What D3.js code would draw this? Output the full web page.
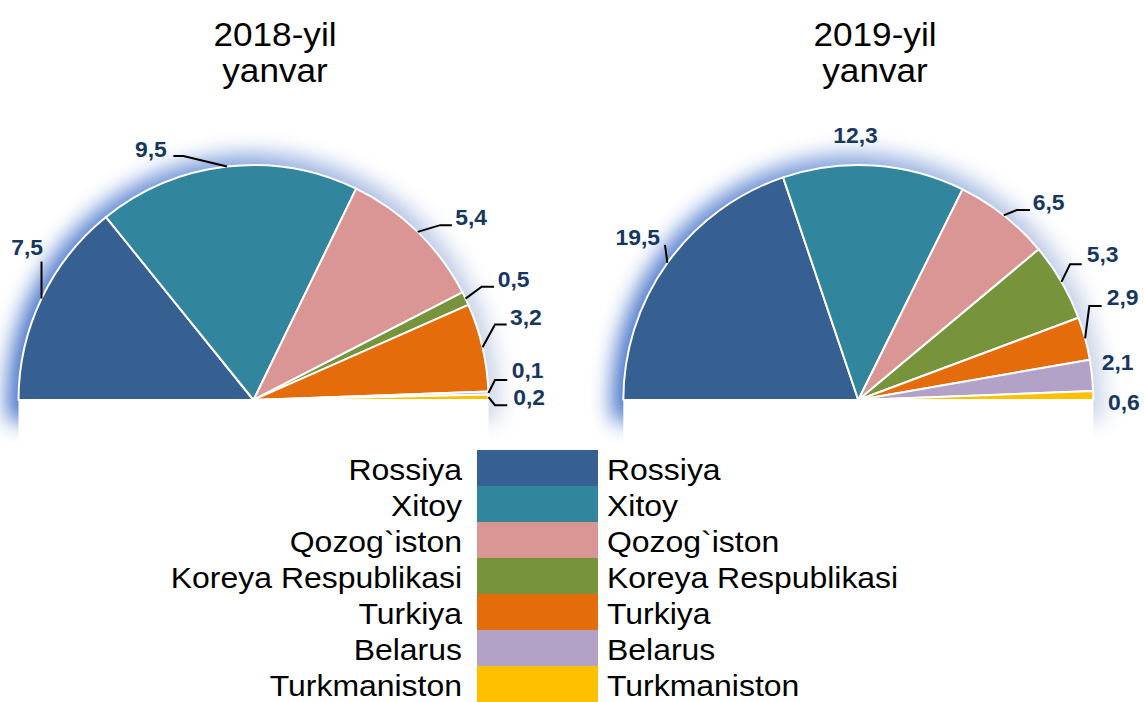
<!DOCTYPE html>
<html>
<head>
<meta charset="utf-8">
<script src="https://cdn.jsdelivr.net/npm/d3@7"></script>
<style>
  html, body { margin: 0; padding: 0; background: #ffffff; }
  svg { display: block; }
</style>
</head>
<body>
<svg id="chart" width="1144" height="702"></svg>
<script>
// ---------- DATA ----------
const categories = ["Rossiya", "Xitoy", "Qozog`iston", "Koreya Respublikasi", "Turkiya", "Belarus", "Turkmaniston"];
const values2018 = [7.5, 9.5, 5.4, 0.5, 3.2, 0.1, 0.2];
const values2019 = [19.5, 12.3, 6.5, 5.3, 2.9, 2.1, 0.6];
const title2018 = ["2018-yil", "yanvar"];
const title2019 = ["2019-yil", "yanvar"];

// ---------- STYLE / LAYOUT ----------
const colors = ["#376092", "#31859C", "#D99694", "#77933C", "#E46C0A", "#B3A2C7", "#FFC000"];
const labelColor = "#17375E";
const font = "'Liberation Sans', Arial, sans-serif";
const R = 235;
const SX = 1.065; // horizontal text stretch seen in the reference
const pies = [
  { values: values2018, title: title2018, cx: 253.5, cy: 400, titleX: 275,
    labels: [
      { anchor: "end",   dx: 1.5,   dy: -43.6, leader: [[0, 0], [0, -37]] },
      { anchor: "end",   dx: -60.2, dy: -10,   leader: [[0, 0], [-43.6, -10.5], [-53.6, -10.5]] },
      { anchor: "start", dx: 37.5,  dy: -6.7,  leader: [[0, 0], [22.5, -6.7], [34.2, -6.7]] },
      { anchor: "start", dx: 32.2,  dy: -11.8, leader: [[0, 0], [16.2, -11.8], [28.5, -11.8]] },
      { anchor: "start", dx: 27.5,  dy: -22.7, leader: [[0, 0], [12.5, -22.7], [24.2, -22.7]] },
      { anchor: "start", dx: 23.3,  dy: -14.7, leader: [[0, 0], [6.6, -13], [18.9, -13]] },
      { anchor: "start", dx: 24.8,  dy: 8,     leader: [[0, 0], [6.5, 8], [18.8, 8]] }
    ] },
  { values: values2019, title: title2019, cx: 858.3, cy: 400, titleX: 875,
    labels: [
      { anchor: "end",    dx: -7.4,  dy: -18,   leader: [[0, 0], [-2.4, -18]] },
      { anchor: "middle", dx: -18.5, dy: -22.5, leader: null },
      { anchor: "start",  dx: 29,    dy: -5.4,  leader: [[0, 0], [13, -5.4], [26.3, -5.4]] },
      { anchor: "start",  dx: 25.3,  dy: -20,   leader: [[0, 0], [8.6, -17.5], [20.3, -17.5]] },
      { anchor: "start",  dx: 21.6,  dy: -33.4, leader: [[0, 0], [4.2, -32.4], [16.6, -32.4]] },
      { anchor: "start",  dx: 9.7,   dy: -5.3,  leader: null },
      { anchor: "start",  dx: 14.7,  dy: 14.5,  leader: null }
    ] }
];

const svg = d3.select("#chart");
const defs = svg.append("defs");

const grad = defs.append("linearGradient").attr("id", "glowGrad")
  .attr("x1", "0%").attr("x2", "100%").attr("y1", "0%").attr("y2", "0%");
grad.append("stop").attr("offset", "0%").attr("stop-color", "#2B60C2");
grad.append("stop").attr("offset", "45%").attr("stop-color", "#7496D8");
grad.append("stop").attr("offset", "100%").attr("stop-color", "#CAD3E6");

const filt = defs.append("filter").attr("id", "blur")
  .attr("x", "-25%").attr("y", "-25%").attr("width", "150%").attr("height", "150%");
filt.append("feGaussianBlur").attr("stdDeviation", 10.5);

const fmt = v => d3.format(".1f")(v).replace(".", ",");

function stretchedText(parent, x, y, str, anchor, attrs) {
  const g = parent.append("g").attr("transform", `translate(${x},${y}) scale(${SX},1)`);
  const t = g.append("text").attr("x", 0).attr("y", 0).attr("text-anchor", anchor)
    .attr("font-family", font).text(str);
  Object.entries(attrs).forEach(([k, v]) => t.attr(k, v));
  return t;
}

const pie = d3.pie().sort(null).value(d => d)
  .startAngle(-Math.PI / 2).endAngle(Math.PI / 2);
const arc = d3.arc().innerRadius(0).outerRadius(R);

pies.forEach(p => {
  const g = svg.append("g").attr("transform", `translate(${p.cx},${p.cy})`);

  // glow
  const glowArc = d3.arc().innerRadius(0).outerRadius(R + 11)
    .startAngle(-Math.PI / 2).endAngle(Math.PI / 2);
  const gg = g.append("g").attr("filter", "url(#blur)").attr("opacity", 0.9);
  gg.append("path").attr("d", glowArc()).attr("fill", "url(#glowGrad)");
  gg.append("rect").attr("x", -R - 11).attr("y", -1).attr("width", 2 * R + 22).attr("height", 22)
    .attr("fill", "url(#glowGrad)");
  g.append("rect").attr("x", -R).attr("y", 0).attr("width", 2 * R).attr("height", 48).attr("fill", "#fff");

  const arcs = pie(p.values);
  g.selectAll("path.slice").data(arcs).join("path")
    .attr("class", "slice")
    .attr("d", arc)
    .attr("fill", (d, i) => colors[i])
    .attr("stroke", "#ffffff")
    .attr("stroke-width", 2)
    .attr("stroke-linejoin", "round");

  // labels + leaders
  arcs.forEach((d, i) => {
    const mid = (d.startAngle + d.endAngle) / 2;
    const ax = R * Math.sin(mid), ay = -R * Math.cos(mid);
    const L = p.labels[i];
    if (L.leader) {
      g.append("path")
        .attr("d", d3.line()(L.leader.map(q => [ax + q[0], ay + q[1]])))
        .attr("fill", "none").attr("stroke", "#000").attr("stroke-width", 2);
    }
    stretchedText(g, ax + L.dx, ay + L.dy, fmt(d.data), L.anchor,
      { "font-weight": "bold", "font-size": 21.5, "fill": labelColor });
  });

  // title
  p.title.forEach((line, k) => {
    stretchedText(svg, p.titleX, 46 + k * 36, line, "middle",
      { "font-size": 33, "fill": "#000" });
  });
});

// legend
const legendY = d3.scaleBand().domain(categories).range([450, 702]).padding(0);
const lg = svg.append("g");
lg.selectAll("rect").data(categories).join("rect")
  .attr("x", 477).attr("width", 121)
  .attr("y", d => legendY(d)).attr("height", legendY.bandwidth() + 0.5)
  .attr("fill", (d, i) => colors[i]);
categories.forEach((c, i) => {
  stretchedText(lg, 462, legendY(c) + 29.5, c, "end", { "font-size": 30, "fill": "#000" });
  stretchedText(lg, 607, legendY(c) + 29.5, c, "start", { "font-size": 30, "fill": "#000" });
});
</script>
</body>
</html>
